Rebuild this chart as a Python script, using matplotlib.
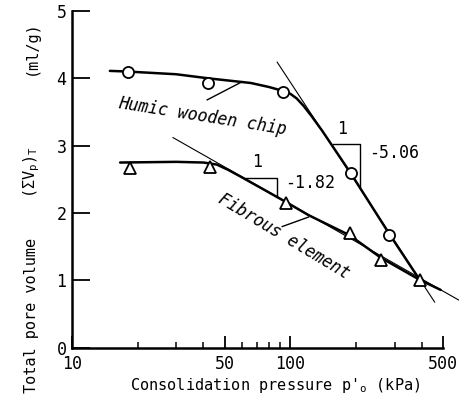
import numpy as np
import matplotlib.pyplot as plt
from matplotlib.ticker import FixedLocator, NullFormatter

plt.rcParams['font.family'] = 'DejaVu Sans Mono'
plt.rcParams['mathtext.fontset'] = 'custom'
plt.rcParams['mathtext.rm'] = 'DejaVu Sans Mono'
plt.rcParams['mathtext.it'] = 'DejaVu Sans Mono'

# dane
p_humic = [18, 42, 93, 190, 284]
v_humic = [4.10, 3.93, 3.80, 2.60, 1.67]
p_fib = [18.4, 43, 96, 187, 259, 391]
v_fib = [2.67, 2.69, 2.15, 1.70, 1.31, 1.01]

# ręcznie narysowane krzywe
curve_humic_p = [14.9, 18, 30, 42, 66, 80, 93, 100, 107, 115, 125, 140, 190, 284, 391]
curve_humic_v = [4.11, 4.10, 4.06, 4.00, 3.93, 3.87, 3.81, 3.77, 3.70, 3.59, 3.44, 3.22, 2.58, 1.69, 1.01]
curve_fib_p = [16.6, 30, 40, 46, 52, 60, 96, 121, 187, 259, 391, 488]
curve_fib_v = [2.75, 2.76, 2.75, 2.72, 2.64, 2.53, 2.16, 1.97, 1.67, 1.34, 1.01, 0.86]

# styczne
tan_humic_p = [87, 458]
tan_humic_v = [4.24, 0.68]
tan_fib_p = [29, 590]
tan_fib_v = [3.12, 0.71]

fig = plt.figure(figsize=(4.59, 4.04), dpi=100)
ax = fig.add_axes([0.157, 0.139, 0.808, 0.834])

ax.plot(curve_humic_p, curve_humic_v, color='black', lw=1.8, clip_on=False,
        solid_capstyle='round', solid_joinstyle='round')
ax.plot(curve_fib_p, curve_fib_v, color='black', lw=1.8, clip_on=False,
        solid_capstyle='round', solid_joinstyle='round')
ax.plot(tan_humic_p, tan_humic_v, color='black', lw=0.8, clip_on=False)
ax.plot(tan_fib_p, tan_fib_v, color='black', lw=0.8, clip_on=False)

ax.plot(p_humic, v_humic, 'o', ms=8, mfc='white', mec='black', mew=1.3, zorder=5)
ax.plot(p_fib, v_fib, '^', ms=8.5, mfc='white', mec='black', mew=1.3, zorder=5, clip_on=False)

# trójkąty nachylenia
ax.plot([156, 209, 209], [3.03, 3.03, 2.39], color='black', lw=1.0)
ax.text(173, 3.12, '1', fontsize=12, ha='center', va='bottom')
ax.text(229, 2.89, '-5.06', fontsize=12, ha='left', va='center')
ax.plot([62, 87, 87], [2.52, 2.52, 2.24], color='black', lw=1.0)
ax.text(70.5, 2.62, '1', fontsize=12, ha='center', va='bottom')
ax.text(95, 2.45, '-1.82', fontsize=12, ha='left', va='center')

# opisy krzywych
ax.text(39.5, 3.43, 'Humic wooden chip', fontsize=12, style='italic',
        rotation=-9, ha='center', va='center', rotation_mode='anchor')
ax.plot([41.6, 60.2], [3.68, 3.95], color='black', lw=1.0)
ax.text(93, 1.65, 'Fibrous element', fontsize=12, style='italic',
        rotation=-31, ha='center', va='center', rotation_mode='anchor')
ax.plot([91.8, 121], [1.80, 1.94], color='black', lw=1.0)

ax.set_xscale('log')
ax.set_xlim(10, 500)
ax.set_ylim(0, 5)
ax.spines['top'].set_visible(False)
ax.spines['right'].set_visible(False)
ax.spines['left'].set_linewidth(1.8)
ax.spines['bottom'].set_linewidth(1.8)

ax.xaxis.set_major_locator(FixedLocator([10, 50, 100, 500]))
ax.xaxis.set_minor_locator(FixedLocator([20, 30, 40, 60, 70, 80, 90, 200, 300, 400]))
ax.xaxis.set_minor_formatter(NullFormatter())
ax.set_xticklabels(['10', '50', '100', '500'])
ax.set_yticks([0, 1, 2, 3, 4, 5])
ax.tick_params(axis='x', which='major', direction='in', length=9, width=1.3, labelsize=12, pad=5)
ax.tick_params(axis='x', which='minor', direction='in', length=4.5, width=1.1)
ax.tick_params(axis='y', which='major', direction='in', length=13, width=1.3, labelsize=12, pad=4)

fig.text(0.599, 0.047, "Consolidation pressure p$'_\\mathrm{o}$ (kPa)", fontsize=11,
         ha='center', va='center')
fig.text(0.068, 1 - 315 / 404, 'Total pore volume', fontsize=11, rotation=90,
         ha='center', va='center')
fig.text(0.068, 1 - 172 / 404, '($\\Sigma$V$_\\mathrm{p}$)$_\\mathrm{T}$', fontsize=11,
         rotation=90, ha='center', va='center')
fig.text(0.068, 1 - 48 / 404, '(ml/g)', fontsize=11, rotation=90,
         ha='center', va='center')

plt.savefig('out.png', dpi=100)
